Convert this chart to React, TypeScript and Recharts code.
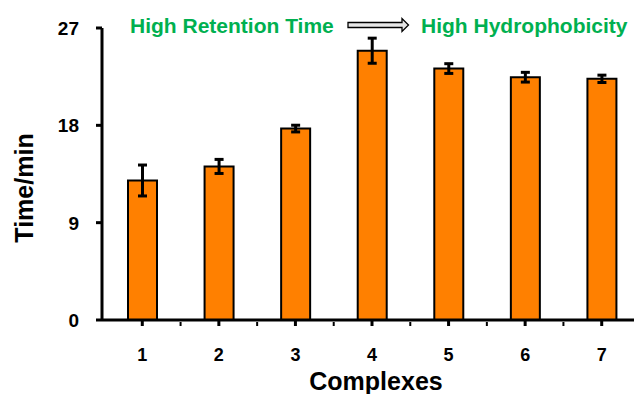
import React from 'react';
import { BarChart, Bar, XAxis, YAxis, ErrorBar } from 'recharts';

const complexes = ['1', '2', '3', '4', '5', '6', '7'];
const times = [12.9, 14.2, 17.7, 24.9, 23.25, 22.45, 22.3];
const errors = [1.43, 0.65, 0.31, 1.16, 0.45, 0.45, 0.34];
const yTicks = [0, 9, 18, 27];

const data = complexes.map((c, i) => ({ name: c, time: times[i], err: errors[i] }));

const FONT = 'Arial, "Liberation Sans", Helvetica, sans-serif';

// tick label plus a small minor tick on the right-hand band boundary
const XTick = (props: any) => {
  const { x, y, payload } = props;
  const half = payload && payload.offset ? payload.offset : 38;
  const axisY = y - 6;
  return (
    <g>
      <line x1={x + half} x2={x + half} y1={axisY} y2={axisY + 4} stroke="#000" strokeWidth={2} />
      <text x={x} y={y + 33} textAnchor="middle" fontFamily={FONT} fontWeight="bold" fontSize={18} fill="#000">
        {payload.value}
      </text>
    </g>
  );
};

const YTick = (props: any) => {
  const { y, payload } = props;
  return (
    <text x={79} y={y + 7} textAnchor="end" fontFamily={FONT} fontWeight="bold" fontSize={19} fill="#000">
      {payload.value}
    </text>
  );
};

export default function App() {
  return (
    <div style={{ position: 'fixed', left: 0, top: 0, width: 634, height: 394, overflow: 'hidden', background: '#fff' }}>
      <BarChart width={643} height={394} data={data} margin={{ top: 28, right: 3, left: 0, bottom: 0 }}>
        <XAxis
          dataKey="name"
          height={74}
          padding={{ left: 2, right: 0 }}
          tick={<XTick />}
          tickSize={6}
          axisLine={{ stroke: '#000', strokeWidth: 3 }}
          tickLine={{ stroke: '#000', strokeWidth: 3 }}
          interval={0}
        />
        <YAxis
          domain={[0, 27]}
          ticks={yTicks}
          width={102}
          tick={<YTick />}
          tickSize={6}
          axisLine={{ stroke: '#000', strokeWidth: 3 }}
          tickLine={{ stroke: '#000', strokeWidth: 3 }}
        />
        <Bar dataKey="time" fill="#FF8000" stroke="#000" strokeWidth={2} barSize={29} isAnimationActive={false}>
          <ErrorBar dataKey="err" width={4.5} stroke="#000" strokeWidth={3} />
        </Bar>
      </BarChart>
      <svg width={634} height={394} style={{ position: 'absolute', left: 0, top: 0, pointerEvents: 'none' }}>
        <text x={130} y={33} fontFamily={FONT} fontWeight="bold" fontSize={21} fill="#00B050">
          High Retention Time
        </text>
        <path
          d="M348,22.5 L402,22.5 L402,18.5 L408.5,25 L402,31.5 L402,27.5 L348,27.5 Z"
          fill="#e6e6e6"
          stroke="#000"
          strokeWidth={1.3}
        />
        <text x={421} y={33} fontFamily={FONT} fontWeight="bold" fontSize={21} fill="#00B050">
          High Hydrophobicity
        </text>
        <text
          x={33}
          y={188}
          transform="rotate(-90, 33, 188)"
          textAnchor="middle"
          fontFamily={FONT}
          fontWeight="bold"
          fontSize={25}
          fill="#000"
        >
          Time/min
        </text>
        <text x={376} y={390} textAnchor="middle" fontFamily={FONT} fontWeight="bold" fontSize={25} fill="#000">
          Complexes
        </text>
      </svg>
    </div>
  );
}
